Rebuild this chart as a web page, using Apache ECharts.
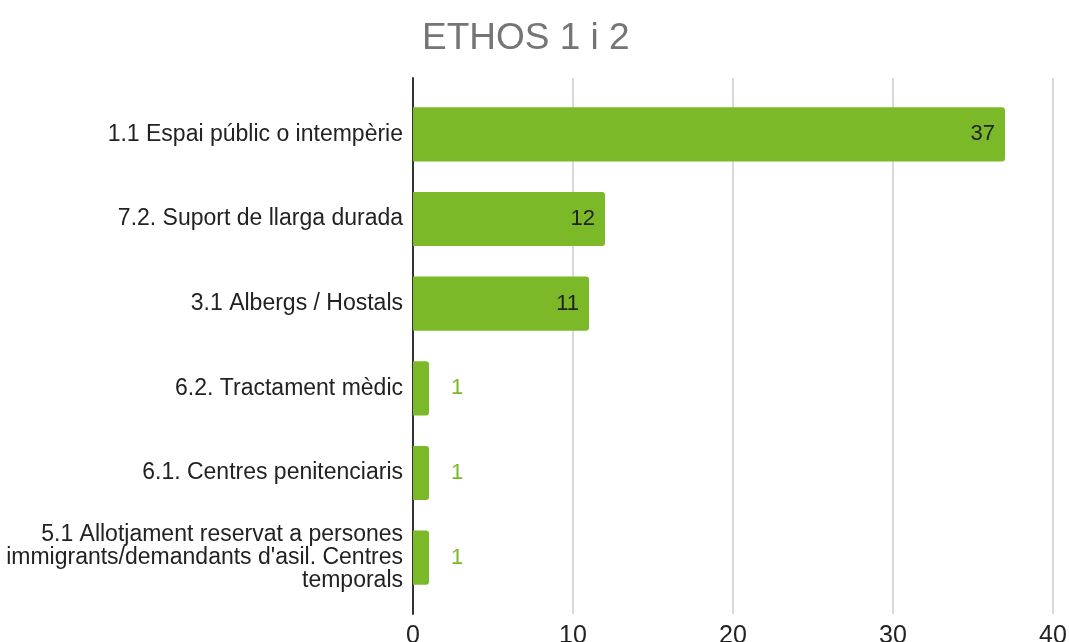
<!DOCTYPE html>
<html>
<head>
<meta charset="utf-8">
<script src="https://cdn.jsdelivr.net/npm/echarts@6/dist/echarts.min.js"></script>
<style>
  html, body { margin: 0; padding: 0; background: #fff; }
  #main { width: 1069px; height: 642px; }
</style>
</head>
<body>
<div id="main"></div>
<script>
    // dades del gràfic
    var categories = [
        '1.1 Espai públic o intempèrie',
        '7.2. Suport de llarga durada',
        '3.1 Albergs / Hostals',
        '6.2. Tractament mèdic',
        '6.1. Centres penitenciaris',
        "5.1 Allotjament reservat a persones\nimmigrants/demandants d'asil. Centres\ntemporals"
    ];
    var values = [37, 12, 11, 1, 1, 1];
    var xTicks = [0, 10, 20, 30, 40];

    var green = '#7cb928';
    var font = '"Liberation Sans", Arial, sans-serif';

    // barres petites: etiqueta fora, en verd
    var barData = values.map(function (v) {
        if (v > 5) return v;
        return {
            value: v,
            label: { position: 'right', distance: 22, color: green }
        };
    });

    var myChart = echarts.init(document.getElementById('main'));
    var option = {
        animation: false,
        title: {
            text: 'ETHOS 1 i 2',
            left: 417,
            top: 15,
            textStyle: {
                fontFamily: font,
                fontSize: 37,
                fontWeight: 'normal',
                color: '#757575'
            }
        },
        // grid 0: barres; grid 1: línies de la graella (una mica més llargues)
        grid: [{
            left: 413,
            right: 16,
            top: 92,
            height: 508,
            containLabel: false,
            outerBoundsMode: 'none'
        }, {
            left: 413,
            right: 16,
            top: 78,
            height: 536,
            containLabel: false,
            outerBoundsMode: 'none'
        }],
        xAxis: [{
            type: 'value',
            gridIndex: 0,
            min: xTicks[0],
            max: xTicks[xTicks.length - 1],
            interval: 10,
            axisLine: { show: false },
            axisTick: { show: false },
            splitLine: { show: false },
            axisLabel: { show: false }
        }, {
            type: 'value',
            gridIndex: 1,
            min: xTicks[0],
            max: xTicks[xTicks.length - 1],
            interval: 10,
            axisLine: { show: false },
            axisTick: { show: false },
            splitLine: { lineStyle: { color: '#cccccc', width: 1.5 } },
            axisLabel: {
                margin: 10,
                fontFamily: font,
                fontSize: 25,
                color: '#222'
            }
        }],
        yAxis: [{
            type: 'category',
            gridIndex: 0,
            inverse: true,
            data: categories,
            axisLine: { show: false },
            axisTick: { show: false },
            axisLabel: {
                margin: 10,
                fontFamily: font,
                fontSize: 23,
                lineHeight: 23,
                color: '#222',
                align: 'right'
            }
        }, {
            type: 'value',
            gridIndex: 1,
            min: 0,
            max: 1,
            axisLine: { show: true, lineStyle: { color: '#333', width: 2 } },
            axisTick: { show: false },
            axisLabel: { show: false },
            splitLine: { show: false }
        }],
        series: [{
            type: 'bar',
            xAxisIndex: 0,
            yAxisIndex: 0,
            data: barData,
            barCategoryGap: '36%',
            itemStyle: { color: green, borderRadius: [0, 3, 3, 0] },
            label: {
                show: true,
                position: 'insideRight',
                distance: 10,
                fontFamily: font,
                fontSize: 22,
                color: '#222'
            }
        }]
    };
    myChart.setOption(option);
</script>
</body>
</html>
